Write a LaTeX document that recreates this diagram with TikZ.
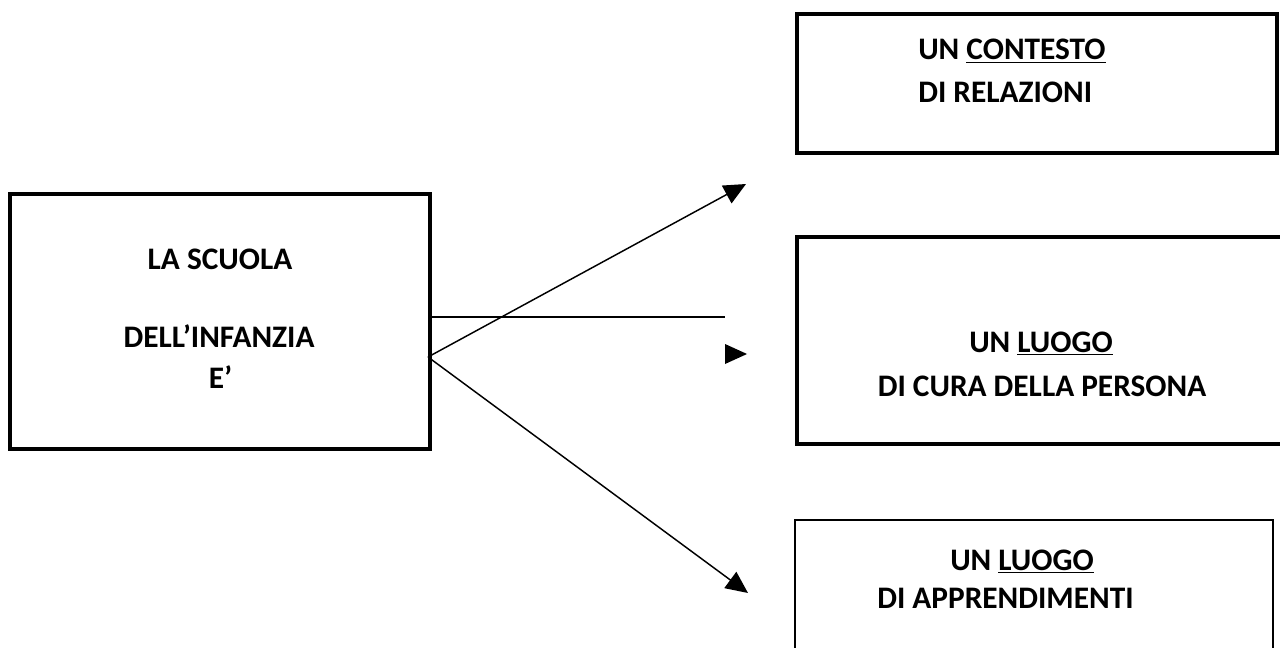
\documentclass[tikz,border=0pt]{standalone}
\usepackage{fontspec}
\setmainfont{Carlito}
\usetikzlibrary{arrows.meta}
\tikzset{
  box/.style={draw=black, line width=2.3pt, fill=none, inner sep=0pt},
  thinbox/.style={draw=black, line width=1.5pt, fill=none, inner sep=0pt},
  lbl/.style={inner sep=0pt, font=\fontsize{23.5pt}{28pt}\selectfont\bfseries},
  conn/.style={draw=black, line width=1.1pt},
  arr/.style={conn, -{Triangle[length=16.5pt,width=15pt]}}
}
\begin{document}
\begin{tikzpicture}[x=0.75pt,y=-0.75pt]
\useasboundingbox (0,0) rectangle (1280,648);
% boxes
\node[box, minimum width=420*0.75pt, minimum height=255*0.75pt] (left) at (220,321.5) {};
\node[box, minimum width=480*0.75pt, minimum height=139*0.75pt] (top) at (1037,83.5) {};
\node[box, minimum width=487*0.75pt, minimum height=207*0.75pt] (mid) at (1040.5,340.5) {};
\node[thinbox, minimum width=478*0.75pt, minimum height=140*0.75pt] (bot) at (1034,590) {};
% texts
\node[lbl, anchor=base] (l1) at (220,270) {LA SCUOLA};
\node[lbl, anchor=base] (l2) at (219,347) {DELL’INFANZIA};
\node[lbl, anchor=base] (l3) at (220.5,388) {E’};
\node[lbl, anchor=base west] (t1) at (918,60) {UN \underline{CONTESTO}};
\node[lbl, anchor=base west] (t2) at (918,103) {DI RELAZIONI};
\node[lbl, anchor=base] (m1) at (1041,352) {UN \underline{LUOGO}};
\node[lbl, anchor=base] (m2) at (1042,396) {DI CURA DELLA PERSONA};
\node[lbl, anchor=base west] (b1) at (950,570) {UN \underline{LUOGO}};
\node[lbl, anchor=base west] (b2) at (877,608) {DI APPRENDIMENTI};
% connectors
\coordinate (src) at (428,357);
\coordinate (hstart) at (430,317);
\coordinate (hend) at (725,317);
\coordinate (upend) at (746,184);
\coordinate (downend) at (748,593);
\draw[arr] (src) -- (upend);
\draw[arr] (src) -- (downend);
\draw[conn, line width=1.6pt] (hstart) -- (hend);
% lone arrowhead
\coordinate (lone) at (725,354);
\fill[black] (lone) ++(0,-10) -- ++(22,10) -- ++(-22,10) -- cycle;
\end{tikzpicture}
\end{document}
